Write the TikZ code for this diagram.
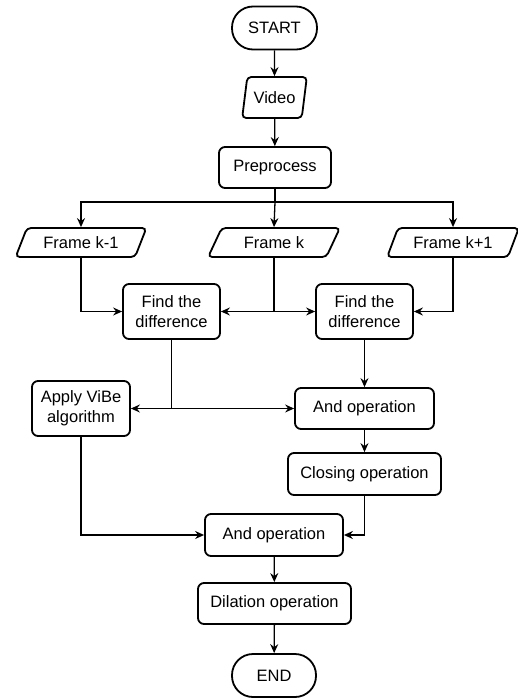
\documentclass[tikz,border=0pt]{standalone}
\usepackage{fontspec}
\setmainfont{Liberation Sans}
\usetikzlibrary{shapes.geometric,arrows.meta}
\begin{document}
\begin{tikzpicture}[x=1pt,y=-1pt,
  every node/.style={font=\fontsize{16.5}{20}\selectfont, align=center, inner sep=0pt},
  proc/.style={draw, line width=1.8pt, rounded corners=6pt, rectangle},
  term/.style={draw, line width=1.8pt, rounded corners=21pt, rectangle,
    minimum width=85pt, minimum height=43pt},
  io/.style={draw, line width=1.8pt, rounded corners=4pt, trapezium,
    trapezium stretches=true},
  frameio/.style={io, trapezium left angle=57, trapezium right angle=123,
    minimum width=132pt, minimum height=29pt},
  flow/.style={line width=1.3pt, -{Stealth[length=9pt,width=8pt,inset=3pt]}},
  wire/.style={line width=1.3pt}
]
\useasboundingbox (0,0) rectangle (518,698);

% main column
\node[term] (start) at (274.5,28) {START};
\node[io, trapezium left angle=72, trapezium right angle=108,
  minimum width=65pt, minimum height=41pt] (video) at (274.5,97.5) {Video};
\node[proc, minimum width=112pt, minimum height=41pt] (pre) at (275,167.5) {Preprocess};

% frames
\node[frameio] (fkm) at (81,242.5) {Frame k-1};
\node[frameio] (fk) at (274,242.5) {Frame k};
\node[frameio] (fkp) at (453,242.5) {Frame k+1};

% differences
\node[proc, minimum width=97pt, minimum height=55pt] (diffa) at (171.5,311.5) {Find the\\difference};
\node[proc, minimum width=97pt, minimum height=55pt] (diffb) at (364.5,311.5) {Find the\\difference};

% second stage
\node[proc, minimum width=98pt, minimum height=55pt] (vibe) at (81,408.5) {Apply ViBe\\algorithm};
\node[proc, minimum width=139pt, minimum height=41pt] (anda) at (364.5,408.5) {And operation};
\node[proc, minimum width=153pt, minimum height=42pt] (close) at (364.5,474) {Closing operation};
\node[proc, minimum width=138pt, minimum height=42pt] (andb) at (274,535) {And operation};
\node[proc, minimum width=153pt, minimum height=41pt] (dil) at (274.5,603.5) {Dilation operation};
\node[term, minimum width=84pt] (end) at (274,675.5) {END};

% connectors
\draw[flow] (start) -- (video);
\draw[flow] (video) -- (pre);
\coordinate (split) at (275,202);
\draw[wire] (pre.south) -- (split);
\draw[flow] (split) -| (fkm.north);
\draw[flow] (split) -- (fk.north);
\draw[flow] (split) -| (fkp.north);

\draw[flow] (fkm.south) |- (diffa.west);
\coordinate (kj) at (fk.south |- diffa.east);
\draw[wire] (fk.south) -- (kj);
\draw[flow] (kj) -- (diffa.east);
\draw[flow] (kj) -- (diffb.west);
\draw[flow] (fkp.south) |- (diffb.east);

\coordinate (dj) at (diffa.south |- anda.west);
\draw[wire] (diffa.south) -- (dj);
\draw[flow] (dj) -- (vibe.east);
\draw[flow] (dj) -- (anda.west);
\draw[flow] (diffb) -- (anda);
\draw[flow] (anda) -- (close);
\draw[flow] (vibe.south) |- (andb.west);
\draw[flow] (close.south) |- (andb.east);
\draw[flow] (andb) -- (dil);
\draw[flow] (dil) -- (end);
\end{tikzpicture}
\end{document}
